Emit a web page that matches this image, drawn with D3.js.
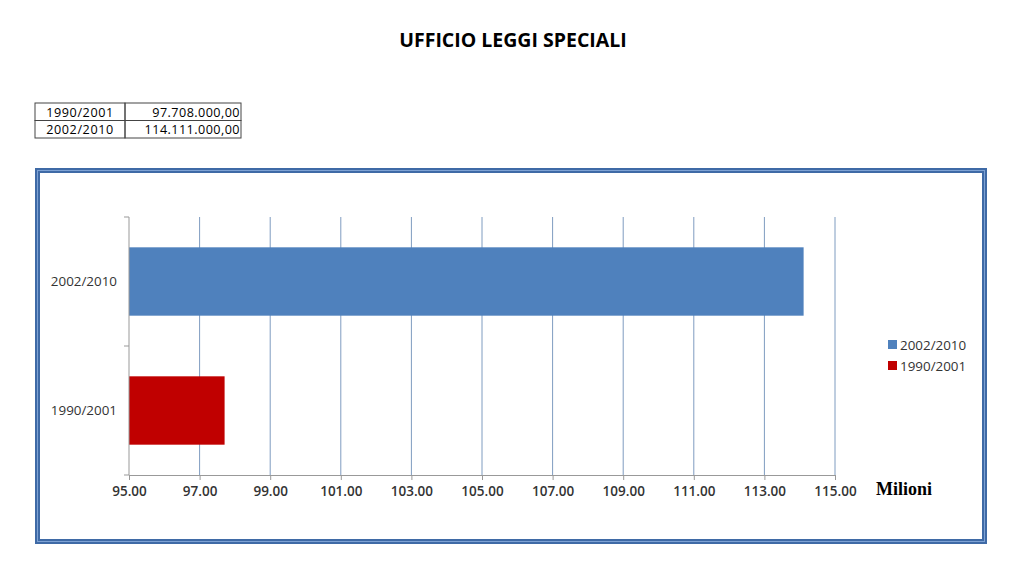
<!DOCTYPE html>
<html>
<head>
<meta charset="utf-8">
<script src="https://cdn.jsdelivr.net/npm/d3@7"></script>
<style>
  body { margin: 0; background: #fff; }
  svg { display: block; }
</style>
</head>
<body>
<div id="chart"></div>
<script>
// data
var categories = ['1990/2001', '2002/2010'];
var amounts = [97708000, 114111000];
var tableValues = ['97.708.000,00', '114.111.000,00'];
var seriesColors = ['#c00000', '#4f81bd'];
var xTicks = [95, 97, 99, 101, 103, 105, 107, 109, 111, 113, 115];

var width = 1024, height = 575;
var font = "'Open Sans', 'DejaVu Sans', sans-serif";

var svg = d3.select('#chart').append('svg')
  .attr('width', width)
  .attr('height', height);

// title
svg.append('text')
  .attr('x', 513)
  .attr('y', 47)
  .attr('text-anchor', 'middle')
  .attr('font-family', font)
  .attr('font-weight', 'bold')
  .attr('font-size', 19.5)
  .attr('fill', '#000')
  .text('UFFICIO LEGGI SPECIALI');

// small table
var table = svg.append('g').attr('transform', 'translate(35,103)');
var rowH = 17.5;
categories.forEach(function (c, i) {
  var row = table.append('g').attr('transform', 'translate(0,' + (i * rowH) + ')');
  row.append('rect').attr('width', 90).attr('height', rowH)
    .attr('fill', 'none').attr('stroke', '#444').attr('stroke-width', 1);
  row.append('rect').attr('x', 90).attr('width', 116).attr('height', rowH)
    .attr('fill', 'none').attr('stroke', '#444').attr('stroke-width', 1);
  row.append('text').attr('x', 45).attr('y', 13.5)
    .attr('text-anchor', 'middle')
    .attr('font-family', font).attr('font-size', 12.6)
    .attr('letter-spacing', 0.6)
    .text(c);
  row.append('text').attr('x', 205).attr('y', 13.5)
    .attr('text-anchor', 'end')
    .attr('font-family', font).attr('font-size', 12.6)
    .attr('letter-spacing', 0.45)
    .text(tableValues[i]);
});

// chart frame
svg.append('rect')
  .attr('x', 37.5).attr('y', 170.5)
  .attr('width', 947).attr('height', 371)
  .attr('fill', '#fff')
  .attr('stroke', '#3f6aa6').attr('stroke-width', 5);
svg.append('rect')
  .attr('x', 37.5).attr('y', 170.5)
  .attr('width', 947).attr('height', 371)
  .attr('fill', 'none')
  .attr('stroke', '#7ea2d4').attr('stroke-width', 1);

// plot area
var plotLeft = 129, plotRight = 835, plotTop = 217, plotBottom = 475;

var x = d3.scaleLinear().domain([95, 115]).range([plotLeft, plotRight]);
var y = d3.scaleBand().domain(categories.slice().reverse()).range([plotTop, plotBottom])
  .paddingInner(0.47).paddingOuter(0.235);

// gridlines
svg.append('g')
  .selectAll('line')
  .data(xTicks.slice(1))
  .join('line')
  .attr('x1', function (d) { return x(d); })
  .attr('x2', function (d) { return x(d); })
  .attr('y1', plotTop).attr('y2', plotBottom)
  .attr('stroke', '#7f9cc0').attr('stroke-width', 1);

// bars
svg.append('g')
  .selectAll('rect')
  .data(categories)
  .join('rect')
  .attr('x', x(95))
  .attr('y', function (d) { return y(d); })
  .attr('width', function (d, i) { return x(amounts[i] / 1e6) - x(95); })
  .attr('height', y.bandwidth())
  .attr('fill', function (d, i) { return seriesColors[i]; });

// x axis
var xAxis = svg.append('g')
  .attr('transform', 'translate(0,' + plotBottom + ')')
  .call(d3.axisBottom(x).tickValues(xTicks).tickFormat(d3.format('.2f')).tickSizeOuter(0).tickSize(5));
xAxis.select('.domain').attr('stroke', '#999');
xAxis.selectAll('.tick line').attr('stroke', '#999');
xAxis.selectAll('text')
  .attr('font-family', font).attr('font-size', 13.5).attr('font-weight', 600)
  .attr('fill', '#333').attr('dy', '0.95em');

// y axis with category boundary ticks
var yAxis = svg.append('g').attr('transform', 'translate(' + plotLeft + ',0)');
yAxis.append('line')
  .attr('y1', plotTop).attr('y2', plotBottom)
  .attr('stroke', '#999');
yAxis.selectAll('line.bt')
  .data([plotTop, (plotTop + plotBottom) / 2, plotBottom])
  .join('line').attr('class', 'bt')
  .attr('x1', -5).attr('x2', 0)
  .attr('y1', function (d) { return d; }).attr('y2', function (d) { return d; })
  .attr('stroke', '#999');
yAxis.selectAll('text.cat')
  .data(categories)
  .join('text').attr('class', 'cat')
  .attr('x', -12)
  .attr('y', function (d) { return y(d) + y.bandwidth() / 2; })
  .attr('dy', '0.35em')
  .attr('text-anchor', 'end')
  .attr('font-family', font).attr('font-size', 13.4)
  .attr('fill', '#333')
  .text(function (d) { return d; });

// axis unit
svg.append('text')
  .attr('x', 876).attr('y', 495)
  .attr('font-family', "'Liberation Serif', 'DejaVu Serif', serif")
  .attr('font-weight', 'bold').attr('font-size', 18)
  .text('Milioni');

// legend
var legendOrder = [1, 0];
var legend = svg.append('g').attr('transform', 'translate(888,340)');
legendOrder.forEach(function (k, i) {
  var item = legend.append('g').attr('transform', 'translate(0,' + (i * 21) + ')');
  item.append('rect').attr('width', 9).attr('height', 9).attr('fill', seriesColors[k]);
  item.append('text').attr('x', 12).attr('y', 5).attr('dy', '0.35em')
    .attr('font-family', font).attr('font-size', 13.4).attr('fill', '#333')
    .text(categories[k]);
});
</script>
</body>
</html>
